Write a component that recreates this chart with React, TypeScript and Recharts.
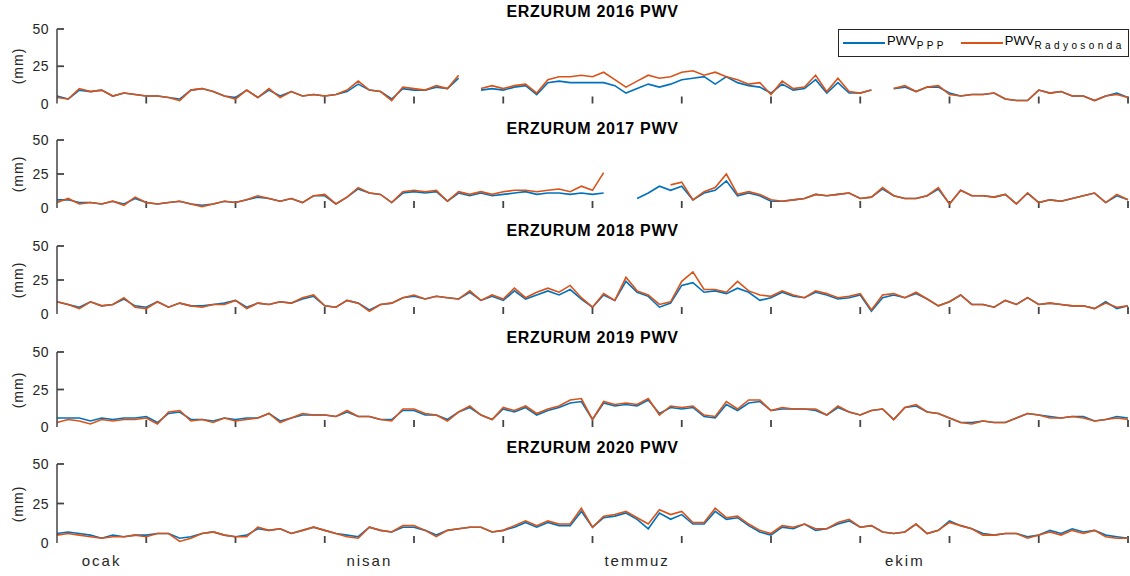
import React from 'react'
import { LineChart, Line, XAxis, YAxis, Legend, ReferenceLine } from 'recharts'

const FONT = '"Liberation Sans", Arial, sans-serif'
const AXIS = '#444444'
const BLUE = '#0072BD'
const ORANGE = '#D95319'

const MONTH_TICKS = [0, 1, 2, 3, 4, 5, 6, 7, 8, 9, 10, 11, 12]
const MONTH_NAMES = ['ocak', 'nisan', 'temmuz', 'ekim']
const MONTH_NAME_POS = [0.5, 3.5, 6.5, 9.5]
const Y_TICKS = [0, 25, 50]
const STEPS_PER_MONTH = 8

// 8 samples a month, Jan 1 .. Dec 31 (mm)
const ppp2016 = [
  5, 3, 9, 8, 9, 5, 7, 6, 5, 5, 4, 3, 9, 10, 8, 5, 4, 9, 4, 9, 5, 8, 5, 6,
  5, 6, 8, 13, 9, 8, 3, 10, 9, 9, 11, 10, 17, null, 9, 10, 9, 11, 12, 6, 14, 15, 14, 14,
  14, 14, 12, 7, 10, 13, 11, 13, 16, 17, 18, 13, 18, 14, 12, 11, 7, 13, 9, 10, 16, 7, 14, 7,
  7, 9, null, 10, 11, 8, 11, 11, 7, 5, 6, 6, 7, 3, 2, 2, 9, 7, 8, 5, 5, 2, 5, 7, 4,
]
const rs2016 = [
  4, 3, 10, 8, 9, 5, 7, 6, 5, 5, 4, 2, 9, 10, 8, 5, 3, 9, 4, 10, 4, 8, 5, 6,
  5, 6, 9, 15, 9, 8, 2, 11, 10, 9, 12, 10, 19, null, 10, 12, 10, 12, 13, 7, 16, 18, 18, 19,
  18, 21, 16, 11, 15, 19, 17, 18, 21, 22, 19, 21, 18, 16, 13, 14, 6, 15, 10, 11, 19, 8, 17, 8,
  7, 9, null, 10, 12, 8, 11, 12, 6, 5, 6, 6, 7, 3, 2, 2, 9, 7, 8, 5, 5, 2, 5, 6, 4,
]

const ppp2017 = [
  6, 6, 4, 4, 3, 5, 3, 7, 4, 3, 4, 5, 3, 2, 3, 5, 4, 6, 8, 7, 5, 7, 4, 9,
  9, 3, 8, 14, 11, 10, 4, 11, 12, 11, 12, 5, 11, 9, 11, 9, 10, 11, 12, 10, 11, 11, 10, 11,
  10, 11, null, null, 7, 11, 16, 13, 16, 6, 11, 13, 20, 9, 11, 9, 5, 5, 6, 7, 10, 9, 10, 11,
  7, 8, 14, 9, 7, 7, 9, 14, 3, 13, 9, 9, 8, 10, 3, 11, 4, 6, 5, 7, 9, 11, 4, 9, 6,
]
const rs2017 = [
  4, 7, 3, 4, 3, 5, 2, 8, 4, 3, 4, 5, 3, 1, 3, 5, 4, 6, 9, 7, 5, 7, 4, 9,
  10, 3, 8, 15, 11, 10, 4, 12, 13, 12, 13, 5, 12, 10, 12, 10, 12, 13, 13, 12, 13, 14, 12, 16,
  13, 26, null, null, null, null, null, 17, 19, 6, 12, 15, 25, 10, 12, 10, 6, 5, 6, 7, 10, 9, 10, 11,
  7, 8, 15, 9, 7, 7, 9, 15, 3, 13, 9, 9, 8, 10, 3, 11, 4, 6, 5, 7, 9, 11, 4, 10, 6,
]

const ppp2018 = [
  9, 7, 5, 9, 6, 7, 11, 6, 5, 9, 5, 8, 6, 6, 7, 8, 10, 5, 8, 7, 9, 8, 11, 13,
  6, 5, 10, 8, 3, 7, 8, 12, 13, 11, 13, 12, 11, 16, 10, 13, 10, 17, 11, 14, 17, 14, 18, 11,
  5, 14, 10, 24, 16, 13, 5, 8, 21, 23, 16, 17, 15, 19, 16, 10, 12, 16, 13, 12, 16, 14, 11, 12,
  14, 2, 12, 14, 12, 15, 11, 6, 9, 14, 7, 7, 5, 10, 7, 12, 7, 8, 7, 6, 6, 4, 9, 4, 6,
]
const rs2018 = [
  9, 7, 4, 9, 6, 7, 12, 5, 4, 9, 5, 8, 6, 5, 7, 7, 10, 4, 8, 7, 9, 8, 12, 14,
  6, 5, 10, 8, 2, 7, 8, 12, 14, 11, 13, 12, 11, 17, 10, 14, 11, 19, 12, 16, 19, 16, 21, 12,
  5, 15, 10, 27, 17, 14, 7, 9, 24, 31, 18, 18, 16, 24, 17, 14, 13, 17, 14, 12, 17, 15, 12, 13,
  15, 3, 14, 15, 12, 16, 11, 6, 9, 14, 7, 7, 5, 10, 7, 12, 7, 8, 7, 6, 6, 4, 8, 5, 6,
]

const ppp2019 = [
  6, 6, 6, 4, 6, 5, 6, 6, 7, 3, 9, 10, 5, 5, 4, 6, 5, 6, 6, 9, 4, 6, 8, 8,
  8, 7, 10, 7, 7, 5, 5, 11, 11, 8, 8, 5, 10, 13, 8, 5, 12, 10, 13, 8, 11, 13, 16, 17,
  5, 16, 14, 15, 14, 18, 9, 13, 12, 13, 7, 6, 15, 11, 16, 17, 11, 12, 12, 12, 11, 8, 13, 10,
  8, 11, 12, 5, 13, 14, 10, 9, 6, 3, 3, 4, 3, 3, 6, 9, 8, 7, 6, 7, 7, 4, 5, 7, 6,
]
const rs2019 = [
  3, 5, 4, 2, 5, 4, 5, 5, 6, 2, 10, 11, 4, 5, 3, 6, 4, 5, 6, 9, 3, 6, 9, 8,
  8, 7, 11, 7, 7, 5, 4, 12, 12, 9, 8, 4, 10, 14, 8, 5, 13, 11, 14, 9, 12, 14, 18, 19,
  5, 17, 15, 16, 15, 19, 8, 14, 13, 14, 8, 7, 17, 12, 18, 18, 11, 13, 12, 12, 12, 8, 14, 10,
  8, 11, 12, 5, 13, 15, 10, 9, 6, 3, 2, 4, 3, 3, 6, 9, 8, 6, 6, 7, 6, 4, 5, 6, 5,
]

const ppp2020 = [
  6, 7, 6, 5, 3, 5, 4, 5, 5, 6, 6, 3, 4, 6, 7, 5, 4, 5, 9, 8, 9, 6, 8, 10,
  8, 6, 5, 4, 10, 8, 7, 10, 10, 8, 5, 8, 9, 10, 10, 7, 8, 10, 13, 10, 13, 11, 11, 20,
  10, 16, 17, 19, 15, 9, 19, 15, 18, 12, 12, 20, 15, 16, 11, 7, 5, 10, 9, 12, 8, 9, 12, 14,
  10, 11, 7, 6, 7, 12, 6, 8, 14, 11, 9, 6, 5, 6, 6, 4, 5, 8, 6, 9, 7, 8, 5, 4, 3,
]
const rs2020 = [
  5, 6, 5, 4, 3, 4, 4, 5, 4, 6, 6, 1, 3, 6, 7, 5, 4, 4, 10, 8, 9, 6, 8, 10,
  8, 6, 4, 3, 10, 8, 7, 11, 11, 8, 4, 8, 9, 10, 10, 7, 8, 11, 14, 11, 14, 12, 12, 22,
  10, 17, 18, 20, 16, 12, 21, 18, 20, 13, 13, 22, 16, 17, 12, 8, 6, 11, 10, 12, 9, 9, 13, 15,
  10, 11, 7, 6, 7, 12, 6, 8, 13, 11, 9, 5, 5, 6, 6, 3, 5, 7, 5, 8, 6, 8, 4, 3, 3,
]

const YEARS = ['2016', '2017', '2018', '2019', '2020']
const PPP = [ppp2016, ppp2017, ppp2018, ppp2019, ppp2020]
const RS = [rs2016, rs2017, rs2018, rs2019, rs2020]
const SERIES_COLORS: Record<string, string> = { PPP: BLUE, Radyosonda: ORANGE }

// page layout of each subplot: top of plot (50 mm), plot height, title centre
const PANEL_TOPS = [29, 140, 246, 352, 464]
const PANEL_HEIGHTS = [74.5, 68, 68, 75, 79]
const TITLE_Y = [12, 129, 231, 338, 448]
const PLOT_W = 1071
const TICK_LEN = 7

function buildRows(ppp: (number | null)[], rs: (number | null)[]) {
  return ppp.map((v, i) => ({ t: i / STEPS_PER_MONTH, ppp: v, rs: rs[i] }))
}

function NameTick(props: any) {
  const { x, y, payload } = props
  const name = MONTH_NAMES[MONTH_NAME_POS.indexOf(payload.value)]
  return (
    <text x={x} y={y + 23} textAnchor="middle" fontFamily={FONT} fontSize={15}
      letterSpacing={2} fill="#262626">
      {name}
    </text>
  )
}

function ValueTick(props: any) {
  const { x, y, payload } = props
  return (
    <text x={x - 8} y={y + 5} textAnchor="end" fontFamily={FONT} fontSize={14}
      letterSpacing={0.5} fill="#262626">
      {payload.value}
    </text>
  )
}

function renderLegend(props: any) {
  const items = props.payload || []
  return (
    <div style={{
      border: '1px solid #262626', background: '#fff', height: 28, boxSizing: 'border-box',
      display: 'flex', alignItems: 'center', fontFamily: FONT, color: '#000',
    }}>
      {items.map((item: any, i: number) => (
        <div key={item.value} style={{ display: 'flex', alignItems: 'center', marginLeft: i === 0 ? 4 : 14 }}>
          <span style={{
            display: 'inline-block', width: 42, height: 2,
            background: SERIES_COLORS[item.value] || item.color,
          }} />
          <span style={{ fontSize: 13, marginLeft: 2, lineHeight: '13px' }}>
            PWV<sub style={{ fontSize: 10, letterSpacing: 3.4 }}>{item.value}</sub>
          </span>
        </div>
      ))}
    </div>
  )
}

function Panel({ idx }: { idx: number }) {
  const top = PANEL_TOPS[idx]
  const plotH = PANEL_HEIGHTS[idx]
  const first = idx === 0
  const last = idx === YEARS.length - 1
  const data = buildRows(PPP[idx], RS[idx])
  const bottomSpace = last ? 34 : 10
  // inward tick length expressed in axis units
  const xTickMM = (TICK_LEN / plotH) * 50
  const yTickMonths = (TICK_LEN / PLOT_W) * 12

  return (
    <>
      <div style={{ position: 'absolute', left: 0, top: top - 10 }}>
        <LineChart width={1130} height={plotH + 10 + bottomSpace} data={data}
          margin={{ top: 10, right: 2, bottom: last ? 0 : bottomSpace, left: 0 }}>
          <XAxis xAxisId="m" type="number" dataKey="t" domain={[0, 12]} ticks={MONTH_TICKS}
            interval={0} height={0} tickLine={false} tick={false}
            axisLine={{ stroke: AXIS, strokeWidth: 1.5 }} />
          {last && (
            <XAxis xAxisId="names" type="number" dataKey="t" domain={[0, 12]} ticks={MONTH_NAME_POS}
              interval={0} height={bottomSpace} tickSize={0} tickMargin={0} tickLine={false}
              axisLine={false} tick={(p: any) => <NameTick {...p} />} />
          )}
          <YAxis type="number" domain={[0, 50]} ticks={Y_TICKS} interval={0} width={57}
            tickSize={0} tickMargin={0} tickLine={false}
            axisLine={{ stroke: AXIS, strokeWidth: 1.5 }}
            tick={(p: any) => <ValueTick {...p} />} />
          {MONTH_TICKS.slice(1).map((m) => (
            <ReferenceLine key={`mx${m}`} xAxisId="m" ifOverflow="visible"
              segment={[{ x: m, y: 0 }, { x: m, y: xTickMM }]}
              stroke={AXIS} strokeWidth={1.8} />
          ))}
          {Y_TICKS.slice(1).map((v) => (
            <ReferenceLine key={`my${v}`} xAxisId="m" ifOverflow="visible"
              segment={[{ x: 0, y: v }, { x: yTickMonths, y: v }]}
              stroke={AXIS} strokeWidth={1.8} />
          ))}
          {first && (
            <Legend content={renderLegend} layout="horizontal" verticalAlign="middle" align="center"
              wrapperStyle={{ top: 10, left: 838, width: 291, height: 28 }} />
          )}
          <Line xAxisId="m" type="linear" dataKey="ppp" name="PPP" stroke={BLUE} strokeWidth={1.6}
            dot={false} isAnimationActive={false} />
          <Line xAxisId="m" type="linear" dataKey="rs" name="Radyosonda" stroke={ORANGE} strokeWidth={1.6}
            dot={false} isAnimationActive={false} />
        </LineChart>
      </div>
      <div style={{
        position: 'absolute', left: 57, width: 1071, top: TITLE_Y[idx] - 9, textAlign: 'center',
        fontFamily: FONT, fontWeight: 'bold', fontSize: 16, letterSpacing: 0.7, lineHeight: '18px',
        color: '#000',
      }}>
        ERZURUM {YEARS[idx]} PWV
      </div>
      <div style={{
        position: 'absolute', left: 18, top: top + plotH / 2, fontFamily: FONT, fontSize: 14,
        letterSpacing: 1, whiteSpace: 'nowrap', color: '#262626',
        transform: 'translate(-50%, -50%) rotate(-90deg)',
      }}>
        (mm)
      </div>
    </>
  )
}

export default function App() {
  return (
    <div style={{ position: 'absolute', left: 0, top: 0, width: 1130, height: 576, background: '#fff' }}>
      {YEARS.map((y, i) => <Panel key={y} idx={i} />)}
    </div>
  )
}
